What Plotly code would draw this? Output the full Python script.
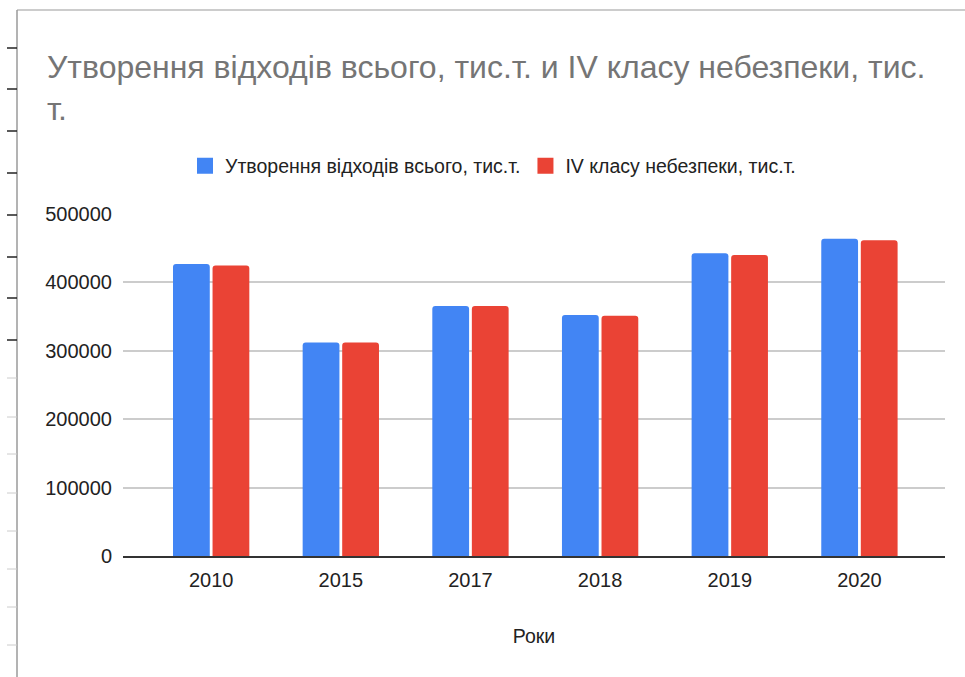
import plotly.graph_objects as go

# Data
years = ["2010", "2015", "2017", "2018", "2019", "2020"]
total_waste = [427000, 312300, 365600, 352400, 442600, 463700]
class_iv = [424600, 312300, 365600, 351400, 440200, 461600]

series_names = ["Утворення відходів всього, тис.т.", "IV класу небезпеки, тис.т."]
colors = ["#4285F4", "#EA4335"]

W, H = 965, 677
L, R, T, B = 123, 20, 214, 121
pw, ph = W - L - R, H - T - B


def px_x(x):
    return (x - L) / pw


def px_y(y):
    return (H - B - y) / ph


fig = go.Figure()
for name, vals, c in zip(series_names, [total_waste, class_iv], colors):
    fig.add_trace(go.Bar(x=years, y=vals, name=name, showlegend=False,
                         marker=dict(color=c, line_width=0, cornerradius=3)))
# legend entries with bigger square swatches
for name, c in zip(series_names, colors):
    fig.add_trace(go.Scatter(x=[None], y=[None], mode="markers", name=name,
                             marker=dict(symbol="square", size=16, color=c)))

# page frame and ruler ticks from the screenshot
shapes = [
    dict(type="line", xref="paper", yref="paper", x0=px_x(17), x1=px_x(965),
         y0=px_y(10), y1=px_y(10), line=dict(color="#cccccc", width=2)),
    dict(type="line", xref="paper", yref="paper", x0=px_x(17), x1=px_x(17),
         y0=px_y(10), y1=px_y(677), line=dict(color="#9a9a9a", width=1.5)),
]
dark_ticks = [48, 89, 131, 173, 215, 257, 298, 340]
light_ticks = [378, 417, 454, 493, 531, 569, 607, 645]
for ty in dark_ticks:
    shapes.append(dict(type="line", xref="paper", yref="paper", x0=px_x(7), x1=px_x(17),
                       y0=px_y(ty), y1=px_y(ty), line=dict(color="#222222", width=1.5)))
for ty in light_ticks:
    shapes.append(dict(type="line", xref="paper", yref="paper", x0=px_x(7), x1=px_x(17),
                       y0=px_y(ty), y1=px_y(ty), line=dict(color="#cccccc", width=1)))

fig.update_layout(
    width=W, height=H,
    margin=dict(l=L, r=R, t=T, b=B),
    paper_bgcolor="white", plot_bgcolor="white",
    font=dict(family="Liberation Sans, Arial, sans-serif", size=20, color="#222222"),
    title=dict(text="Утворення відходів всього, тис.т. и IV класу небезпеки, тис.<br>т.",
               xref="container", yref="container", x=47 / W, xanchor="left",
               y=1 - 78 / H, yanchor="top",
               font=dict(family="Liberation Sans, Arial, sans-serif", size=32, color="#757575")),
    barmode="group", bargap=0.39, bargroupgap=0.07,
    legend=dict(orientation="h", x=px_x(493), xanchor="center", y=px_y(166), yanchor="middle",
                font=dict(family="Liberation Sans, Arial, sans-serif", size=19.5, color="#222222"),
                itemwidth=30),
    xaxis=dict(type="category", range=[-0.68, 5.66], showgrid=False, ticks="",
               showline=True, linecolor="#333333", linewidth=1.5, ticklabelstandoff=5,
               title=dict(text="Роки", standoff=40, font=dict(size=19.5)), tickfont=dict(size=20)),
    yaxis=dict(range=[0, 500000], dtick=100000, showgrid=True, gridcolor="#cccccc",
               gridwidth=1.5, zeroline=False, showline=False, ticks="",
               tickformat="d", ticklabelstandoff=10, tickfont=dict(size=20)),
    shapes=shapes,
)

fig.write_html("out.html", config={"displayModeBar": False},
               post_script="document.body.style.margin='0';")
